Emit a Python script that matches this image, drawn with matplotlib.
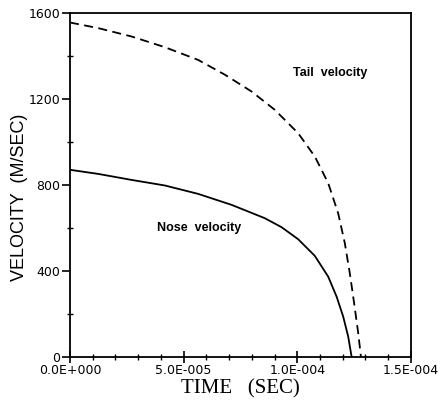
import numpy as np
import matplotlib
matplotlib.use("Agg")
import matplotlib.pyplot as plt
from matplotlib.ticker import MultipleLocator

# values
nose_t = [0.0, 1.24e-5, 2.71e-5, 4.18e-5, 5.64e-5, 7.11e-5, 8.57e-5, 9.31e-5,
          1.004e-4, 1.077e-4, 1.136e-4, 1.173e-4, 1.202e-4, 1.224e-4, 1.239e-4]
nose_v = [870, 851, 823, 797, 758, 707, 645, 603, 547, 470, 373, 280, 187, 94, 0]

tail_t = [0.0, 1.24e-5, 2.71e-5, 4.18e-5, 5.64e-5, 6.82e-5, 7.99e-5, 9.01e-5,
          1.004e-4, 1.077e-4, 1.136e-4, 1.18e-4, 1.209e-4, 1.231e-4, 1.25e-4,
          1.268e-4, 1.28e-4]
tail_v = [1555, 1529, 1490, 1440, 1381, 1312, 1234, 1149, 1040, 932, 808, 667,
          529, 389, 250, 110, 0]

x_ticks = [0.0, 5e-5, 1e-4, 1.5e-4]
x_labels = ["0.0E+000", "5.0E-005", "1.0E-004", "1.5E-004"]
y_ticks = [0, 400, 800, 1200, 1600]

fig = plt.figure(figsize=(4.4, 4.01), dpi=100)
ax = fig.add_axes([0.159, 0.11, 0.775, 0.858])

ax.plot(nose_t, nose_v, color="black", lw=1.3)
ax.plot(tail_t, tail_v, color="black", lw=1.3, linestyle=(0, (5, 3)))

ax.set_xlim(0, 1.5e-4)
ax.set_ylim(0, 1600)
ax.set_xticks(x_ticks)
ax.set_xticklabels(x_labels)
ax.set_yticks(y_ticks)
ax.xaxis.set_minor_locator(MultipleLocator(1e-5))
ax.yaxis.set_minor_locator(MultipleLocator(200))

for s in ax.spines.values():
    s.set_linewidth(1.3)

ax.tick_params(axis="x", which="major", direction="inout", length=8, width=1.2,
               labelsize=9, pad=1)
ax.tick_params(axis="x", which="minor", direction="inout", length=5, width=1.0)
ax.tick_params(axis="y", which="major", direction="out", length=6, width=1.2,
               labelsize=9, pad=1)
ax.tick_params(axis="y", which="minor", direction="inout", length=5, width=1.0)
for lab in ax.get_xticklabels() + ax.get_yticklabels():
    lab.set_family("DejaVu Sans")

ax.set_xlabel("TIME   (SEC)", family="Liberation Serif", fontsize=15, labelpad=1.5)
ax.set_ylabel("VELOCITY  (M/SEC)", family="Liberation Sans", fontsize=13)
ax.yaxis.set_label_coords(-0.123, 0.465)

ax.text(1.143e-4, 1321, "Tail  velocity", family="Liberation Sans", fontsize=9,
        fontweight="bold", ha="center", va="center")
ax.text(5.66e-5, 599, "Nose  velocity", family="Liberation Sans", fontsize=9,
        fontweight="bold", ha="center", va="center")

fig.savefig("out.png", dpi=100)
